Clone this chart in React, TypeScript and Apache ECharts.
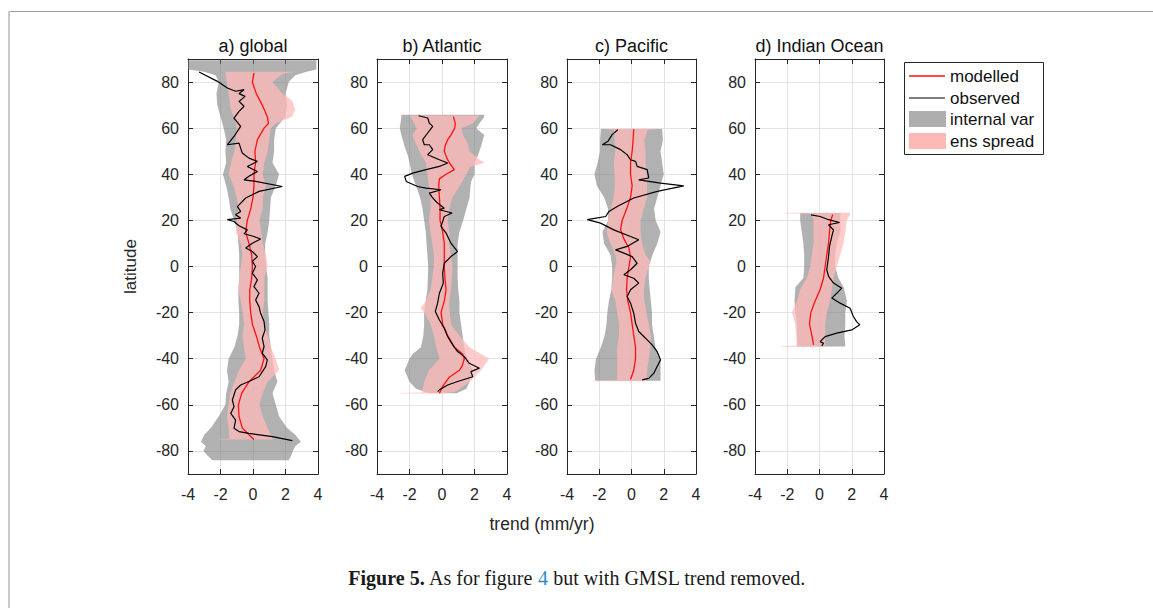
import React, { useEffect, useRef } from "react";
import * as echarts from "echarts";

// ---------- DATA ----------
const panelTitles = ["a) global", "b) Atlantic", "c) Pacific", "d) Indian Ocean"];
const xTicks = [-4, -2, 0, 2, 4];
const latTicks = [-80, -60, -40, -20, 0, 20, 40, 60, 80];
const legendNames = ["modelled", "observed", "internal var", "ens spread"];

// internal variability band: [lat, low, high]
const internalA = [
  [89.5, -4.0, 3.9], [85.5, -4.0, 3.9], [84.5, -3.0, 3.3], [83, -2.3, 2.6], [80, -2.1, 2.2],
  [75, -2.25, 2.0], [70, -2.2, 2.1], [65, -2.0, 2.0], [60, -1.8, 1.4], [55, -1.65, 1.3],
  [50, -1.7, 1.3], [45, -1.65, 1.2], [40, -1.85, 1.6], [35, -1.65, 1.4], [30, -1.5, 1.1],
  [25, -1.4, 1.05], [20, -1.15, 1.0], [15, -0.95, 0.9], [10, -0.9, 0.75], [5, -0.85, 0.75],
  [0, -0.85, 0.8], [-5, -0.85, 0.9], [-10, -0.9, 0.9], [-15, -0.9, 0.9], [-20, -0.85, 0.95],
  [-25, -0.85, 1.0], [-30, -0.95, 1.0], [-35, -1.15, 1.1], [-40, -1.5, 1.2], [-45, -1.6, 1.3],
  [-50, -1.5, 1.5], [-55, -1.65, 1.2], [-60, -1.7, 1.4], [-65, -2.1, 1.6], [-70, -2.6, 2.1],
  [-73, -3.0, 2.6], [-76, -3.2, 2.95], [-78, -2.9, 2.6], [-80, -3.05, 2.45], [-82, -2.8, 2.35],
  [-84, -2.5, 2.2],
];
const spreadA = [
  [84.5, -1.7, 2.6], [83.5, -1.7, 1.8], [80, -1.6, 1.2], [75, -1.5, 1.8], [72, -1.45, 2.4],
  [68, -1.35, 2.6], [65, -1.2, 2.4], [62, -1.05, 1.4], [60, -1.0, 1.1], [55, -1.05, 1.0],
  [50, -1.15, 0.9], [45, -1.35, 0.7], [40, -1.5, 0.6], [35, -1.2, 0.8], [30, -1.0, 0.6],
  [25, -0.9, 0.6], [20, -1.0, 0.4], [15, -1.05, 0.5], [10, -0.75, 0.6], [5, -0.65, 0.8],
  [0, -0.75, 0.9], [-5, -0.85, 0.7], [-10, -0.9, 0.7], [-15, -0.75, 0.7], [-20, -0.65, 0.6],
  [-25, -0.55, 0.7], [-30, -0.65, 0.9], [-35, -0.55, 1.1], [-40, -0.45, 1.4], [-45, -0.85, 1.6],
  [-50, -1.15, 0.9], [-55, -1.4, 0.6], [-60, -1.5, 0.4], [-65, -1.6, 0.6], [-70, -1.5, 0.9],
  [-74.6, -1.45, 1.2], [-74.8, -2.1, 1.2], [-75, -2.1, 1.2],
];
// modelled: [lat, trend]
const modelledA = [
  [84, 0.06], [80, -0.04], [75, 0.2], [70, 0.57], [65, 0.88], [62, 0.95], [60, 0.68], [55, 0.27],
  [50, 0.12], [45, 0.16], [40, 0.06], [35, 0.06], [30, 0.0], [25, -0.14], [20, -0.35], [15, -0.45],
  [10, -0.25], [5, -0.08], [0, -0.04], [-5, -0.08], [-10, -0.2], [-15, -0.2], [-20, -0.14],
  [-25, -0.04], [-30, 0.2], [-35, 0.4], [-40, 0.68], [-45, 0.47], [-50, -0.25], [-55, -0.7],
  [-60, -0.9], [-65, -0.86], [-70, -0.66], [-73, -0.25], [-75, 0.06],
];
const observedA = [
  [84.4, -3.32], [80.3, -2.19], [77.4, -1.58], [76, -1.07], [76.7, -0.55], [75, -0.86], [73.8, -0.49],
  [71.6, -0.86], [69.5, -0.55], [67.3, -0.86], [64.4, -1.17], [60.8, -0.76], [56.4, -1.17],
  [52.8, -1.58], [53.5, -0.86], [49.2, -0.66], [47, -0.25], [45.6, 0.27], [43.4, -0.35], [41.2, 0.27],
  [39.1, -0.25], [37.6, -0.55], [36.9, 0.16], [34.7, 1.8], [32.6, 0.37], [29.7, -0.45], [26, -0.96],
  [23.9, -0.76], [22.4, -1.07], [21, -0.76], [20.3, -1.58], [19.5, -1.17], [17.7, -0.86], [15.9, -0.35],
  [14.2, -0.55], [13, 0.06], [11.9, 0.47], [10.1, -0.04], [8, -0.45], [6.5, -0.04], [4.3, 0.27],
  [2.2, -0.04], [0, 0.16], [-2.9, -0.04], [-5.8, 0.27], [-8.7, 0.06], [-11.6, 0.37], [-14.5, 0.16],
  [-17.4, 0.37], [-20.3, 0.47], [-23.9, 0.68], [-27.5, 0.74], [-31.1, 0.57], [-34.7, 0.68],
  [-37.6, 0.57], [-40.5, 0.88], [-43.4, 0.78], [-47.8, 0.37], [-49.9, -0.25], [-51.4, -0.76],
  [-53.5, -1.07], [-57.9, -1.27], [-60.8, -1.17], [-63.7, -1.37], [-66.6, -1.07], [-70.2, -1.17],
  [-71.6, -0.86], [-72.4, -0.25], [-73.8, 1.19], [-75.5, 2.42],
];

const internalB = [
  [65.8, -2.5, 2.6], [65, -2.5, 2.6], [60, -2.6, 2.1], [57, -2.5, 2.6], [52, -2.3, 2.4],
  [48, -2.1, 2.2], [45, -2.0, 2.0], [40, -1.85, 2.0], [37, -1.7, 1.8], [35, -1.6, 1.75],
  [30, -1.35, 1.7], [25, -1.2, 1.5], [20, -1.1, 1.3], [15, -1.0, 1.07], [10, -0.95, 0.96],
  [5, -0.9, 0.96], [0, -0.85, 0.96], [-5, -0.87, 0.96], [-10, -0.9, 1.0], [-15, -1.0, 1.07],
  [-20, -1.1, 1.07], [-25, -1.1, 1.17], [-30, -1.15, 1.27], [-35, -1.3, 1.37], [-38, -1.8, 1.45],
  [-40, -2.0, 1.6], [-45, -2.3, 1.9], [-50, -2.0, 1.7], [-53, -1.6, 1.5], [-55, -0.8, 0.9],
];
const spreadB = [
  [65.5, -2.0, 2.3], [62, -1.7, 1.9], [60, -1.55, 1.2], [57, -1.8, 1.3], [53, -1.6, 1.6],
  [50, -1.4, 1.7], [47, -1.15, 2.2], [45, -1.0, 2.6], [43, -0.95, 1.7], [40, -0.9, 1.5],
  [35, -0.8, 1.1], [30, -0.7, 0.65], [25, -0.7, 0.45], [20, -0.8, 0.35], [15, -0.7, 0.45],
  [10, -0.6, 0.45], [5, -0.5, 0.55], [0, -0.5, 0.65], [-5, -0.6, 0.6], [-10, -0.7, 0.55],
  [-15, -1.0, 0.45], [-18, -1.3, 0.45], [-21, -1.0, 0.5], [-25, -0.7, 0.55], [-30, -0.5, 1.07],
  [-35, -0.35, 1.7], [-40, -0.15, 2.9], [-45, -0.8, 2.4], [-50, -1.1, 1.7], [-54, -1.2, 0.9],
  [-54.7, -1.2, 0.6], [-54.9, -2.6, 0.1], [-55.1, -2.6, 0.1],
];
const modelledB = [
  [65, 0.7], [62, 0.82], [60, 0.78], [57, 0.55], [55, 0.35], [52, 0.18], [50, 0.14], [47, 0.3],
  [45, 0.45], [42, 0.76], [40, 0.25], [38, -0.16], [35, -0.2], [30, -0.16], [25, -0.12], [20, -0.12],
  [15, 0.04], [10, 0.14], [5, 0.14], [0, 0.14], [-5, 0.18], [-10, 0.25], [-15, 0.14], [-20, -0.06],
  [-25, 0.04], [-30, 0.35], [-35, 0.76], [-38, 1.27], [-40, 1.37], [-43, 1.25], [-45, 1.07],
  [-48, 0.45], [-52, 0.04], [-55, -0.16],
];
const observedB = [
  [65.4, -1.44], [64.4, -0.88], [62.2, -0.78], [60.8, -0.57], [57.9, -0.88], [55, -1.19],
  [52.8, -1.09], [52.8, -0.78], [50.7, -0.57], [48.5, -0.88], [46.3, -0.16], [44.9, 0.35],
  [43.4, -0.16], [42, -0.98], [40.5, -1.8], [39.1, -2.3], [36.9, -2.2], [34.7, -1.5], [34, -0.98],
  [33.3, -0.06], [31.8, -0.78], [29.7, -0.57], [27.5, -0.27], [25.3, 0.14], [24.6, -0.16],
  [23.2, 0.62], [21.7, 0.14], [17.4, -0.06], [14.5, 0.25], [10.1, 0.55], [6.5, 0.96], [4.3, 0.55],
  [1.4, 0.14], [-2.9, 0.04], [-7.2, 0.08], [-11.6, -0.16], [-15.9, -0.27], [-19.5, -0.41],
  [-23.2, -0.16], [-26.8, 0.14], [-30.4, 0.35], [-34, 0.66], [-36.9, 0.96], [-39.1, 1.37],
  [-42, 1.68], [-44.1, 2.3], [-45.6, 1.78], [-47.8, 1.89], [-49.9, 0.96], [-51.4, 0.35],
  [-53.5, -0.16], [-54.3, -0.27],
];

const internalC = [
  [59.6, -1.9, 1.9], [55, -1.95, 1.95], [50, -1.95, 1.8], [45, -2.1, 1.9], [40, -2.3, 2.0],
  [35, -2.15, 1.8], [30, -1.7, 1.6], [25, -1.45, 1.4], [20, -1.45, 1.5], [15, -1.8, 1.8],
  [10, -1.7, 1.6], [5, -1.3, 1.3], [0, -1.2, 1.07], [-5, -1.2, 1.07], [-10, -1.25, 1.13],
  [-15, -1.4, 1.2], [-20, -1.5, 1.27], [-25, -1.55, 1.27], [-30, -1.67, 1.38], [-35, -1.9, 1.48],
  [-40, -2.2, 1.8], [-45, -2.3, 1.8], [-49.5, -2.25, 1.8],
];
const spreadC = [
  [59.8, -1.9, 1.7], [59.6, -1.9, 1.7], [59.3, -1.1, 1.0], [55, -1.05, 0.8], [50, -1.0, 0.87],
  [45, -1.1, 0.87], [40, -1.05, 0.93], [35, -1.03, 0.97], [30, -1.1, 0.97], [25, -1.3, 0.76],
  [20, -1.45, 0.56], [15, -1.55, 0.56], [10, -1.3, 0.66], [5, -1.0, 0.87], [2, -0.93, 1.2],
  [0, -1.0, 1.07], [-5, -1.13, 0.87], [-10, -1.25, 0.76], [-15, -1.0, 0.8], [-20, -0.89, 0.93],
  [-25, -0.78, 1.07], [-30, -0.78, 1.2], [-35, -0.89, 1.17], [-40, -0.89, 1.07], [-45, -0.89, 0.97],
  [-49.3, -0.89, 0.93], [-49.6, -2.4, 0.9], [-49.8, -2.4, 0.9],
];
const modelledC = [
  [59.5, 0.14], [55, 0.1], [50, 0.04], [45, -0.06], [40, -0.06], [35, 0.04], [30, -0.06], [25, -0.3],
  [20, -0.58], [16, -0.68], [12, -0.47], [8, -0.16], [4, -0.06], [0, -0.16], [-5, -0.27], [-10, -0.31],
  [-15, -0.23], [-20, -0.06], [-25, 0.04], [-30, 0.14], [-35, 0.25], [-40, 0.25], [-45, 0.14],
  [-49, -0.06],
];
const observedC = [
  [59.3, -0.85], [57.2, -1.2], [54.3, -1.46], [52.8, -1.81], [52.8, -1.3], [50.7, -0.68],
  [48.5, -0.27], [46.3, -0.06], [45.6, 0.25], [43.4, 0.35], [42, 0.97], [38.4, 1.07], [37.6, 0.45],
  [36.2, 1.8], [35, 3.24], [32.6, 1.6], [29.7, 0.14], [26, -0.89], [23.9, -1.4], [21.7, -1.6],
  [21, -2.2], [20.3, -2.74], [18.8, -1.92], [15.9, -1.1], [13, -0.06], [11.6, 0.45], [8.7, -0.27],
  [7.2, -0.99], [5.8, -0.47], [4.3, 0.04], [1.4, 0.35], [-1.4, -0.06], [-3.6, -0.47], [-5.1, 0.14],
  [-7.2, 0.45], [-10.1, -0.06], [-13, -0.27], [-15.9, -0.06], [-20.3, 0.14], [-24.6, 0.25],
  [-28.2, 0.45], [-31.1, 0.87], [-34, 1.28], [-36.9, 1.59], [-40.5, 1.8], [-43.4, 1.59],
  [-46.3, 1.38], [-48.5, 1.07], [-49.2, 0.66],
];

const internalD = [
  [23.2, -1.2, 1.3], [20, -1.2, 1.3], [15, -1.1, 1.3], [10, -1.0, 1.07], [5, -0.95, 0.97],
  [0, -0.95, 0.97], [-5, -1.0, 1.17], [-9, -1.5, 1.5], [-15, -1.55, 1.7], [-20, -1.5, 1.6],
  [-25, -1.4, 1.6], [-30, -1.4, 1.55], [-34.7, -1.4, 1.6],
];
const spreadD = [
  [23.3, -2.2, 1.9], [23.1, -2.2, 1.9], [22.8, -0.47, 1.9], [20, -0.37, 1.7], [15, -0.37, 1.6],
  [10, -0.37, 1.48], [5, -0.47, 1.28], [0, -0.58, 1.07], [-5, -0.78, 0.87], [-10, -1.2, 0.76],
  [-15, -1.4, 0.66], [-20, -1.7, 0.45], [-25, -1.5, 0.35], [-30, -1.44, 0.35], [-34.3, -1.4, 0.35],
  [-34.6, -2.4, 0.35], [-34.8, -2.4, 0.35],
];
const modelledD = [
  [22.5, 0.82], [20, 0.7], [15, 0.62], [10, 0.56], [5, 0.45], [0, 0.35], [-5, 0.25], [-10, 0.04],
  [-15, -0.27], [-20, -0.54], [-25, -0.62], [-30, -0.47], [-34, -0.37],
];
const observedD = [
  [22.4, -0.52], [21.7, 0.04], [20.3, 0.56], [19.1, 1.24], [18.1, 0.56], [15.9, 0.87], [13, 0.76],
  [8.7, 0.62], [4.3, 0.56], [-1.4, 0.45], [-4.3, 0.56], [-7.2, 0.87], [-9.4, 1.38], [-11.6, 1.07],
  [-13.7, 0.76], [-15.9, 1.28], [-18.1, 1.9], [-21.7, 2.1], [-23.9, 2.3], [-25.3, 2.5], [-27.5, 2.0],
  [-28.9, 1.07], [-30.4, 0.35], [-32.6, 0.04], [-33.3, 0.25], [-34.4, 0.14],
];

// ---------- STYLE ----------
const FONT = "'Liberation Sans', Arial, Helvetica, sans-serif";
const AX = "#262626";
const GRID_C = "#e3e3e3";
const GRAY = "rgba(125,125,125,0.6)";
const PINK = "rgba(255,186,186,0.75)";
const RED = "#ff1010";
const BLACK = "#000000";

const gridBoxes = [
  { left: 188, width: 130 },
  { left: 377, width: 130 },
  { left: 567, width: 129 },
  { left: 755, width: 129 },
];
const TOP = 59;
const HEIGHT = 415;

const panels = [
  { internal: internalA, spread: spreadA, modelled: modelledA, observed: observedA },
  { internal: internalB, spread: spreadB, modelled: modelledB, observed: observedB },
  { internal: internalC, spread: spreadC, modelled: modelledC, observed: observedC },
  { internal: internalD, spread: spreadD, modelled: modelledD, observed: observedD },
];

function bandSeries(rows: number[][], gi: number, color: string, z: number) {
  return {
    type: "custom",
    xAxisIndex: 2 * gi,
    yAxisIndex: 2 * gi,
    data: rows,
    encode: { x: [1, 2], y: 0 },
    silent: true,
    z,
    renderItem: (params: any, api: any) => {
      if (params.dataIndex !== 0) return null;
      const pts: number[][] = [];
      for (let i = 0; i < rows.length; i++) pts.push(api.coord([rows[i][1], rows[i][0]]));
      for (let i = rows.length - 1; i >= 0; i--) pts.push(api.coord([rows[i][2], rows[i][0]]));
      return { type: "polygon", shape: { points: pts }, style: { fill: color, stroke: null } };
    },
  };
}

function lineSeries(rows: number[][], gi: number, color: string, width: number, z: number) {
  return {
    type: "line",
    xAxisIndex: 2 * gi,
    yAxisIndex: 2 * gi,
    data: rows.map((r) => [r[1], r[0]]),
    showSymbol: false,
    symbol: "none",
    silent: true,
    z,
    lineStyle: { color, width },
  };
}

export default function App() {
  const ref = useRef<HTMLDivElement>(null);
  useEffect(() => {
    if (!ref.current) return;
    const chart = echarts.init(ref.current, null, { renderer: "svg" });

    const grid: any[] = [];
    const xAxis: any[] = [];
    const yAxis: any[] = [];
    const series: any[] = [];
    const graphic: any[] = [];

    gridBoxes.forEach((g, i) => {
      grid.push({ left: g.left, top: TOP, width: g.width, height: HEIGHT, containLabel: false });
      const tickStyle = { show: true, inside: true, length: 5, lineStyle: { color: AX, width: 1 } };
      xAxis.push({
        type: "value", gridIndex: i, min: -4, max: 4, interval: 2, position: "bottom",
        axisLine: { show: true, onZero: false, lineStyle: { color: AX, width: 1 } },
        axisTick: tickStyle,
        axisLabel: { show: true, color: AX, fontSize: 16, fontFamily: FONT, margin: 12,
          customValues: xTicks },
        splitLine: { show: true, lineStyle: { color: GRID_C, width: 1 } },
      });
      xAxis.push({
        type: "value", gridIndex: i, min: -4, max: 4, interval: 2, position: "top",
        axisLine: { show: true, onZero: false, lineStyle: { color: AX, width: 1 } },
        axisTick: tickStyle, axisLabel: { show: false }, splitLine: { show: false },
      });
      yAxis.push({
        type: "value", gridIndex: i, min: -90, max: 90, position: "left",
        name: i === 0 ? "latitude" : "", nameLocation: "middle", nameGap: 49,
        nameTextStyle: { color: AX, fontSize: 17, fontFamily: FONT },
        axisLine: { show: true, onZero: false, lineStyle: { color: AX, width: 1 } },
        axisTick: { ...tickStyle, customValues: latTicks },
        axisLabel: { show: true, color: AX, fontSize: 16, fontFamily: FONT, margin: 9,
          customValues: latTicks },
        splitLine: { show: true, lineStyle: { color: GRID_C, width: 1 } },
      });
      yAxis.push({
        type: "value", gridIndex: i, min: -90, max: 90, position: "right",
        axisLine: { show: true, onZero: false, lineStyle: { color: AX, width: 1 } },
        axisTick: { ...tickStyle, customValues: latTicks },
        axisLabel: { show: false }, splitLine: { show: false },
      });

      const p = panels[i];
      series.push(bandSeries(p.internal, i, GRAY, 2));
      series.push(bandSeries(p.spread, i, PINK, 3));
      series.push(lineSeries(p.modelled, i, RED, 1.3, 4));
      series.push(lineSeries(p.observed, i, BLACK, 1.2, 5));

      graphic.push({
        type: "text", x: g.left + g.width / 2, y: 46, silent: true,
        style: { text: panelTitles[i], fill: "#111", fontSize: 18, fontFamily: FONT,
          align: "center", verticalAlign: "middle" },
      });
    });

    // frame
    graphic.push({ type: "line", silent: true, shape: { x1: 8, y1: 11.5, x2: 1153, y2: 11.5 },
      style: { stroke: "#9a9a9a", lineWidth: 1.2 } });
    graphic.push({ type: "line", silent: true, shape: { x1: 9, y1: 11, x2: 9, y2: 608 },
      style: { stroke: "#c8c8c8", lineWidth: 2 } });

    // shared x label
    graphic.push({ type: "text", x: 542, y: 524, silent: true,
      style: { text: "trend (mm/yr)", fill: AX, fontSize: 17.5, fontFamily: FONT,
        align: "center", verticalAlign: "middle" } });

    // legend
    const lx = 904.5, ly = 62.5;
    graphic.push({ type: "rect", silent: true, shape: { x: lx, y: ly, width: 139, height: 92 },
      style: { fill: "#fff", stroke: AX, lineWidth: 1 }, z: 10 });
    const rowsY = [76, 98, 119, 141];
    graphic.push({ type: "line", silent: true, z: 11, shape: { x1: 909, y1: rowsY[0], x2: 945, y2: rowsY[0] },
      style: { stroke: RED, lineWidth: 1.3 } });
    graphic.push({ type: "line", silent: true, z: 11, shape: { x1: 909, y1: rowsY[1], x2: 945, y2: rowsY[1] },
      style: { stroke: BLACK, lineWidth: 1.2 } });
    graphic.push({ type: "rect", silent: true, z: 11, shape: { x: 909, y: rowsY[2] - 8, width: 37, height: 16 },
      style: { fill: "#aeaeae" } });
    graphic.push({ type: "rect", silent: true, z: 11, shape: { x: 909, y: rowsY[3] - 8, width: 37, height: 16 },
      style: { fill: "#ffb8b8" } });
    legendNames.forEach((n, k) => {
      graphic.push({ type: "text", silent: true, z: 11, x: 950, y: rowsY[k],
        style: { text: n, fill: "#111", fontSize: 17, fontFamily: FONT, align: "left", verticalAlign: "middle" } });
    });

    // caption
    const SERIF = "'Liberation Serif', 'Times New Roman', serif";
    graphic.push({ type: "text", silent: true, x: 577, y: 578,
      style: {
        text: "{b|Figure 5.} As for figure {c|4} but with GMSL trend removed.",
        fill: "#1a1a1a", fontSize: 20, fontFamily: SERIF, align: "center", verticalAlign: "middle",
        rich: {
          b: { fontWeight: "bold", fontSize: 20, fontFamily: SERIF, fill: "#1a1a1a" },
          c: { fontSize: 20, fontFamily: SERIF, fill: "#2f8bc8" },
        },
      } });

    chart.setOption({
      animation: false,
      backgroundColor: "#ffffff",
      textStyle: { fontFamily: FONT },
      grid, xAxis, yAxis, series, graphic,
    });
    return () => chart.dispose();
  }, []);
  return <div ref={ref} style={{ position: "absolute", left: 0, top: 0, width: 1153, height: 608 }} />;
}
